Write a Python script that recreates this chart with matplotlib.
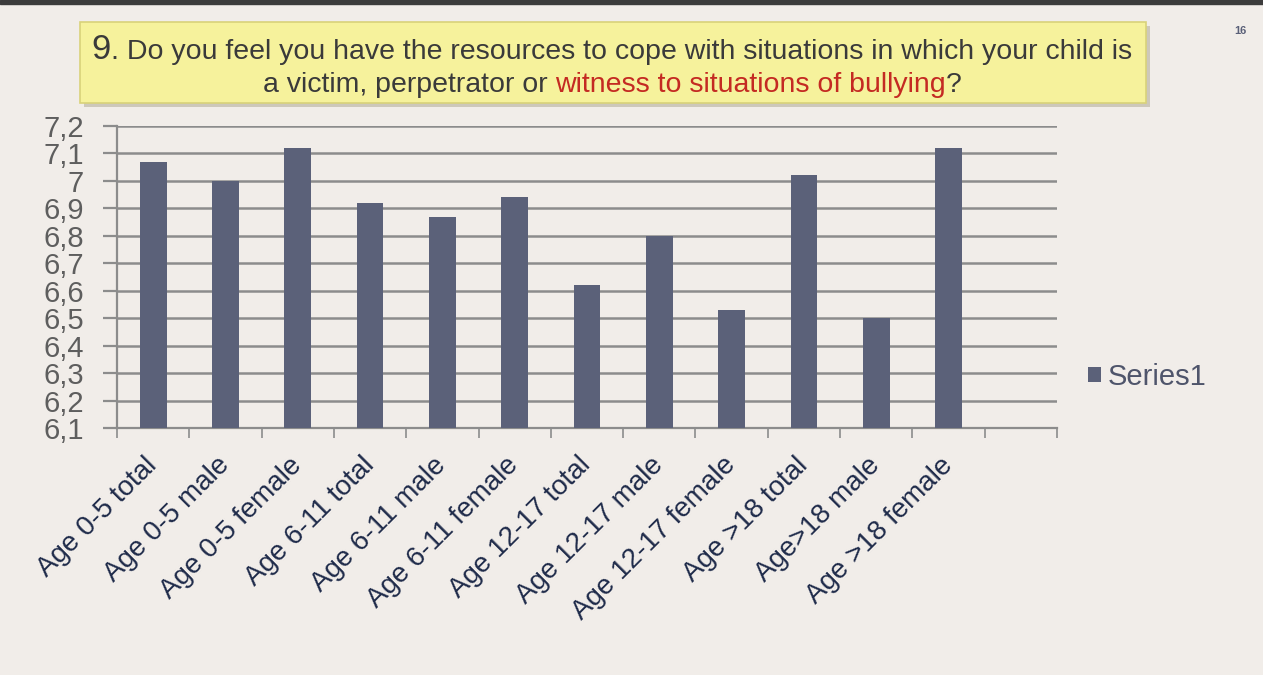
import matplotlib
matplotlib.use('Agg')
import matplotlib.pyplot as plt
import matplotlib.ticker as ticker
from matplotlib.patches import FancyBboxPatch, Rectangle

# ── data ──────────────────────────────────────────────────────────────────────
categories = ['Age 0-5 total', 'Age 0-5 male', 'Age 0-5 female',
              'Age 6-11 total', 'Age 6-11 male', 'Age 6-11 female',
              'Age 12-17 total', 'Age 12-17 male', 'Age 12-17 female',
              'Age >18 total', 'Age>18 male', 'Age >18 female']
values = [7.07, 7.00, 7.12, 6.92, 6.87, 6.94, 6.62, 6.80, 6.53, 7.02, 6.50, 7.12]
series_name = 'Series1'
y_ticks = [6.1, 6.2, 6.3, 6.4, 6.5, 6.6, 6.7, 6.8, 6.9, 7.0, 7.1, 7.2]

BG = '#f1ede9'
BAR = '#5b6179'
GRID = '#8c8c8c'
FONT = 'Liberation Sans'
DARK = '#3a3a3a'
RED = '#c42a22'

W, H = 1263, 675
fig = plt.figure(figsize=(W / 100, H / 100), dpi=100, facecolor=BG)

# top dark border
fig.patches.append(Rectangle((0, 1 - 4 / H), 1, 4 / H, transform=fig.transFigure,
                             color='#3c3c3c', zorder=0))

# ── title box ─────────────────────────────────────────────────────────────────
bx0, by0, bx1, by1 = 80, 22, 1146, 103
fig.patches.append(FancyBboxPatch((bx0 / W + 0.003, 1 - (by1 + 4) / H),
                                  (bx1 - bx0) / W, (by1 - by0) / H,
                                  boxstyle='square,pad=0', transform=fig.transFigure,
                                  facecolor='#cdc8bb', edgecolor='none', zorder=1))
fig.patches.append(FancyBboxPatch((bx0 / W, 1 - by1 / H), (bx1 - bx0) / W, (by1 - by0) / H,
                                  boxstyle='square,pad=0', transform=fig.transFigure,
                                  facecolor='#f6f29c', edgecolor='#d9d27a', linewidth=1.2,
                                  zorder=2))


def rich_line(parts, xc, y):
    """Place text pieces (text, colour, size) in a row centred at xc (fig px)."""
    renderer = fig.canvas.get_renderer()
    texts = []
    for s, c, fs in parts:
        t = fig.text(0, 1 - y / H, s, color=c, fontsize=fs, family=FONT,
                     ha='left', va='baseline', zorder=3)
        texts.append(t)
    widths = [t.get_window_extent(renderer).width for t in texts]
    x = xc - sum(widths) / 2
    for t, w in zip(texts, widths):
        t.set_x(x / W)
        x += w


TS = 20.5
rich_line([('9', DARK, 25), ('. Do you feel you have the resources to cope with situations in which your child is', DARK, TS)],
          612, 59)
rich_line([('a victim, perpetrator or ', DARK, TS), ('witness to situations of bullying', RED, TS),
           ('?', DARK, TS)], 612, 92)

fig.text(1240 / W, 1 - 31 / H, '16', color='#5a6078', fontsize=8, family=FONT,
         ha='center', va='center', fontweight='bold')

# ── chart ─────────────────────────────────────────────────────────────────────
ax = fig.add_axes([117 / W, 1 - 428 / H, (1057 - 117) / W, (428 - 126) / H])
ax.set_facecolor('none')

x = list(range(len(categories)))
bars = ax.bar(x, values, width=0.37, color=BAR, zorder=3, label=series_name)

ax.set_xlim(-0.5, len(categories) + 0.5)
ax.set_ylim(6.1, 7.2)
ax.set_yticks(y_ticks)
ax.yaxis.set_major_formatter(ticker.FuncFormatter(
    lambda v, p: ('%g' % round(v, 1)).replace('.', ',')))

ax.set_xticks(x)
ax.set_xticklabels(categories, rotation=45, ha='right', va='center',
                   rotation_mode='anchor', fontsize=20, family=FONT, color='#1f2b4a')
ax.set_xticks([i - 0.5 for i in range(len(categories) + 2)], minor=True)
ax.tick_params(axis='x', which='major', length=0, pad=24)
ax.tick_params(axis='x', which='minor', length=7, width=1.2, color=GRID, direction='out')
ax.tick_params(axis='y', length=10, width=1.6, color=GRID, pad=14,
               labelsize=21, labelcolor='#5e5e5e')
for lbl in ax.get_yticklabels():
    lbl.set_family(FONT)

ax.yaxis.grid(True, color=GRID, linewidth=1.8, zorder=1)
ax.set_axisbelow(True)
for side in ['top', 'right']:
    ax.spines[side].set_visible(False)
for side in ['left', 'bottom']:
    ax.spines[side].set_color(GRID)
    ax.spines[side].set_linewidth(1.6)

leg = fig.legend(handles=[bars], labels=[series_name], loc='center left',
                 bbox_to_anchor=(1062 / W, 1 - 377 / H), frameon=False,
                 handlelength=0.45, handleheight=0.45, handletextpad=0.2,
                 prop={'family': FONT, 'size': 21})
for t in leg.get_texts():
    t.set_color('#4f556b')

fig.savefig('out.png', dpi=100, facecolor=BG)
